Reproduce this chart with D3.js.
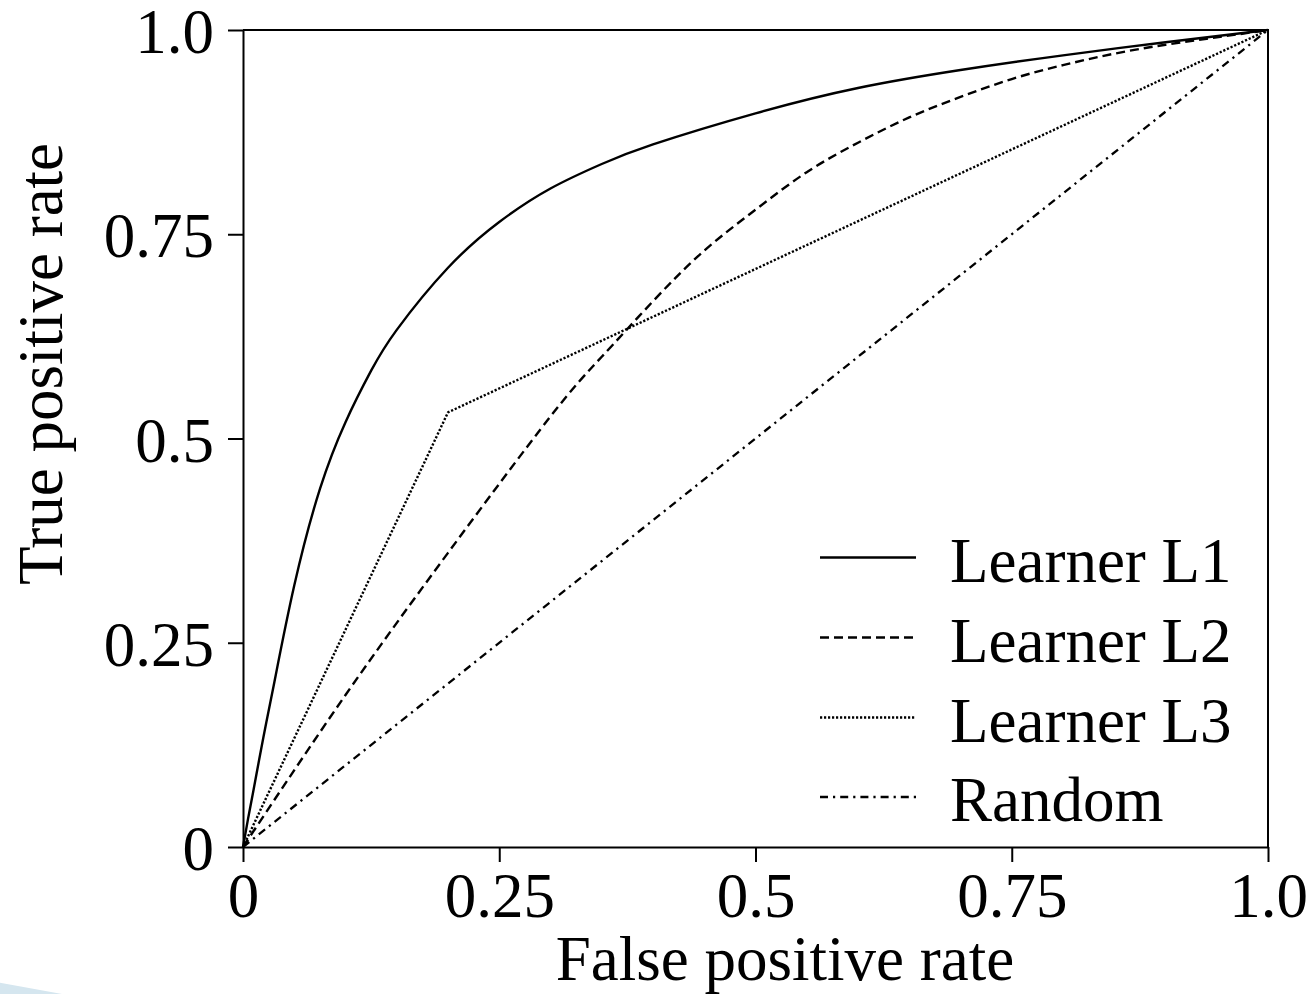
<!DOCTYPE html>
<html>
<head>
<meta charset="utf-8">
<script src="https://cdn.jsdelivr.net/npm/d3@7"></script>
<style>
  html, body { margin: 0; padding: 0; background: #fff; }
  svg { display: block; }
  text { font-family: "Liberation Serif", "Times New Roman", serif; fill: #000; }
</style>
</head>
<body>
<svg id="chart" width="1310" height="994"></svg>
<script>
// ---- data ----
const l1Fpr = [0, 0.005, 0.01, 0.02, 0.03, 0.05, 0.075, 0.1, 0.125, 0.15, 0.2, 0.25, 0.3, 0.35, 0.4, 0.5, 0.6, 0.7, 0.8, 0.9, 1];
const l1Tpr = [0, 0.035, 0.068, 0.135, 0.198, 0.32, 0.438, 0.52, 0.583, 0.633, 0.709, 0.765, 0.806, 0.836, 0.86, 0.898, 0.929, 0.951, 0.969, 0.985, 1];

const l2Fpr = [0, 0.1, 0.2, 0.3, 0.35, 0.4, 0.45, 0.5, 0.55, 0.6, 0.65, 0.7, 0.75, 0.8, 0.85, 0.9, 0.95, 1];
const l2Tpr = [0, 0.186, 0.36, 0.527, 0.60, 0.668, 0.73, 0.78, 0.826, 0.862, 0.893, 0.918, 0.94, 0.957, 0.971, 0.982, 0.991, 1];

const l3Fpr = [0, 0.2, 1];
const l3Tpr = [0, 0.532, 1];

const randFpr = [0, 1];
const randTpr = [0, 1];

const seriesNames = ["Learner L1", "Learner L2", "Learner L3", "Random"];
const tickValues = [0, 0.25, 0.5, 0.75, 1];
const tickLabels = ["0", "0.25", "0.5", "0.75", "1.0"];
const xTitle = "False positive rate";
const yTitle = "True positive rate";

// ---- layout ----
const svg = d3.select("#chart");
const plotL = 243, plotR = 1268, plotT = 30, plotB = 847;
const x = d3.scaleLinear().domain([0, 1]).range([plotL, plotR]);
const y = d3.scaleLinear().domain([0, 1]).range([plotB, plotT]);
const FONT = 63;

// decorative corner shape from the original slide
svg.append("path")
  .attr("d", "M0,982.7 L62,994 L0,994 Z")
  .attr("fill", "#d5e6ef");

// frame (top, right)
svg.append("path")
  .attr("d", `M${plotL},${plotT} H${plotR} V${plotB}`)
  .attr("fill", "none").attr("stroke", "#000").attr("stroke-width", 2);

// axes
const fmt = (d) => tickLabels[tickValues.indexOf(d)];
const xAxis = svg.append("g")
  .attr("transform", `translate(0,${plotB})`)
  .call(d3.axisBottom(x).tickValues(tickValues).tickFormat(fmt).tickSize(15).tickSizeOuter(0).tickPadding(12));
const yAxis = svg.append("g")
  .attr("transform", `translate(${plotL},0)`)
  .call(d3.axisLeft(y).tickValues(tickValues).tickFormat(fmt).tickSize(15).tickSizeOuter(0).tickPadding(14));

[xAxis, yAxis].forEach(g => {
  g.selectAll("path.domain").attr("stroke", "#000").attr("stroke-width", 2);
  g.selectAll(".tick line").attr("stroke", "#000").attr("stroke-width", 2);
  g.selectAll(".tick text")
    .style("font-family", '"Liberation Serif", "Times New Roman", serif')
    .style("font-size", FONT + "px")
    .attr("fill", "#000");
});
xAxis.selectAll(".tick text").attr("dy", null).attr("y", 70);
yAxis.selectAll(".tick text").attr("dy", "0.36em");

// titles
svg.append("text")
  .attr("x", 785).attr("y", 980)
  .attr("text-anchor", "middle")
  .style("font-size", FONT + "px")
  .text(xTitle);
svg.append("text")
  .attr("transform", `translate(62,364) rotate(-90)`)
  .attr("text-anchor", "middle")
  .style("font-size", FONT + "px")
  .text(yTitle);

// series
const styles = [
  { fpr: l1Fpr, tpr: l1Tpr, dash: null, width: 2.4, curve: d3.curveNatural },
  { fpr: l2Fpr, tpr: l2Tpr, dash: "9,5", width: 2.4, curve: d3.curveNatural },
  { fpr: l3Fpr, tpr: l3Tpr, dash: "2.2,1.8", width: 2.4, curve: d3.curveLinear },
  { fpr: randFpr, tpr: randTpr, dash: "8,5,2.2,5", width: 2.3, curve: d3.curveLinear }
];

styles.forEach(s => {
  const pts = s.fpr.map((f, i) => [f, s.tpr[i]]);
  const line = d3.line().x(d => x(d[0])).y(d => y(d[1])).curve(s.curve);
  svg.append("path")
    .attr("d", line(pts))
    .attr("fill", "none")
    .attr("stroke", "#000")
    .attr("stroke-width", s.width)
    .attr("stroke-dasharray", s.dash);
});

// legend
const legendY = [557.5, 637.5, 717.5, 797];
const leg = svg.append("g");
seriesNames.forEach((name, i) => {
  const s = styles[i];
  leg.append("line")
    .attr("x1", 820).attr("x2", 916)
    .attr("y1", legendY[i]).attr("y2", legendY[i])
    .attr("stroke", "#000")
    .attr("stroke-width", s.width)
    .attr("stroke-dasharray", s.dash);
  leg.append("text")
    .attr("x", 950).attr("y", legendY[i] + 24)
    .style("font-size", FONT + "px")
    .text(name);
});
</script>
</body>
</html>
